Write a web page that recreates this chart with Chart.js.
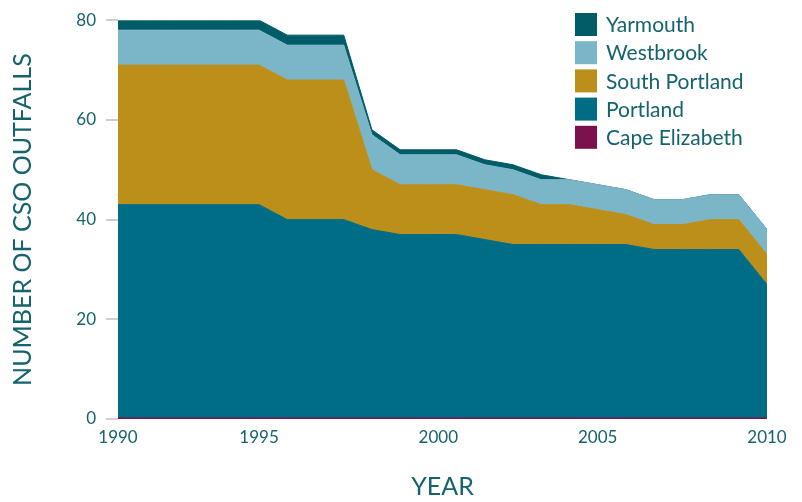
<!DOCTYPE html>
<html>
<head>
<meta charset="utf-8">
<script src="https://cdn.jsdelivr.net/npm/chart.js@4"></script>
<style>
  html, body { margin: 0; padding: 0; background: #ffffff; }
  canvas { display: block; }
</style>
</head>
<body>
<canvas id="cso_chart" width="802" height="502"></canvas>
<script>
'use strict';

// 24 evenly spaced samples between 1990 and 2010
const pointIndex = [0, 1, 2, 3, 4, 5, 6, 7, 8, 9, 10, 11, 12, 13, 14, 15, 16, 17, 18, 19, 20, 21, 22, 23];

const capeElizabeth = [0, 0, 0, 0, 0, 0, 0, 0, 0, 0, 0, 0, 0, 0, 0, 0, 0, 0, 0, 0, 0, 0, 0, 0];
const portland      = [43, 43, 43, 43, 43, 43, 40, 40, 40, 38, 37, 37, 37, 36, 35, 35, 35, 35, 35, 34, 34, 34, 34, 27];
const southPortland = [28, 28, 28, 28, 28, 28, 28, 28, 28, 12, 10, 10, 10, 10, 10, 8, 8, 7, 6, 5, 5, 6, 6, 6];
const westbrook     = [7, 7, 7, 7, 7, 7, 7, 7, 7, 7, 6, 6, 6, 5, 5, 5, 5, 5, 5, 5, 5, 5, 5, 5];
const yarmouth      = [2, 2, 2, 2, 2, 2, 2, 2, 2, 1, 1, 1, 1, 1, 1, 1, 0, 0, 0, 0, 0, 0, 0, 0];

// where the year labels sit along the sample index
const yearTickPositions = [0, 5, 11.35, 17, 23];
const yearTickLabels = ['1990', '1995', '2000', '2005', '2010'];

const textColor = '#15636d';
const fontFamily = 'Lato, "Open Sans", sans-serif';

function toPoints(values) {
    return values.map((v, i) => ({ x: pointIndex[i], y: v }));
}

function makeDataset(label, values, color, fill, lineWidth) {
    return {
        label: label,
        data: toPoints(values),
        backgroundColor: color,
        borderColor: color,
        borderWidth: lineWidth,
        pointRadius: 0,
        tension: 0,
        fill: fill
    };
}

// simple legend drawn in the top right corner, top of stack first
const boxLegend = {
    id: 'boxLegend',
    afterDraw(chart) {
        const ctx = chart.ctx;
        const area = chart.chartArea;
        const x = area.right - 192;
        let y = 13;
        ctx.save();
        ctx.font = '21px ' + fontFamily;
        ctx.textBaseline = 'middle';
        ctx.textAlign = 'left';
        const sets = chart.data.datasets.slice().reverse();
        sets.forEach(ds => {
            ctx.fillStyle = ds.backgroundColor;
            ctx.fillRect(x, y, 22, 23);
            ctx.fillStyle = textColor;
            ctx.fillText(ds.label, x + 31, y + 12.5);
            y += 28.2;
        });
        ctx.restore();
    }
};

const chart = new Chart(document.getElementById('cso_chart').getContext('2d'), {
    type: 'line',
    data: {
        datasets: [
            makeDataset('Cape Elizabeth', capeElizabeth, '#7b114f', 'origin', 3),
            makeDataset('Portland', portland, '#006d86', '-1', 1),
            makeDataset('South Portland', southPortland, '#bb8f19', '-1', 1),
            makeDataset('Westbrook', westbrook, '#7bb5c8', '-1', 1),
            makeDataset('Yarmouth', yarmouth, '#005c66', '-1', 1)
        ]
    },
    options: {
        responsive: false,
        animation: false,
        layout: {
            padding: { top: 17, right: 35, bottom: 0, left: 0 }
        },
        plugins: {
            legend: { display: false },
            tooltip: { enabled: false }
        },
        scales: {
            x: {
                type: 'linear',
                min: 0,
                max: 23,
                afterBuildTicks: scale => {
                    scale.ticks = yearTickPositions.map(v => ({ value: v }));
                },
                afterFit: scale => {
                    scale.height = 83;
                },
                grid: { display: false, drawTicks: false },
                border: { display: false },
                ticks: {
                    padding: 8,
                    color: textColor,
                    font: { family: fontFamily, size: 17 },
                    maxRotation: 0,
                    autoSkip: false,
                    callback: value => {
                        const i = yearTickPositions.indexOf(value);
                        return i >= 0 ? yearTickLabels[i] : '';
                    }
                },
                title: {
                    display: true,
                    text: 'YEAR',
                    color: textColor,
                    font: { family: fontFamily, size: 25 },
                    padding: { top: 0, bottom: 0 }
                }
            },
            y: {
                stacked: true,
                min: 0,
                max: 80,
                afterFit: scale => {
                    scale.width = 118;
                },
                grid: {
                    drawOnChartArea: false,
                    drawTicks: true,
                    tickLength: 12,
                    color: '#cfcfcf',
                    lineWidth: 2
                },
                border: { display: false },
                ticks: {
                    stepSize: 20,
                    padding: 10,
                    color: textColor,
                    font: { family: fontFamily, size: 17 }
                },
                title: {
                    display: true,
                    text: 'NUMBER OF CSO OUTFALLS',
                    color: textColor,
                    font: { family: fontFamily, size: 25 },
                    padding: { top: 8, bottom: 0 }
                }
            }
        }
    },
    plugins: [boxLegend]
});
</script>
</body>
</html>
